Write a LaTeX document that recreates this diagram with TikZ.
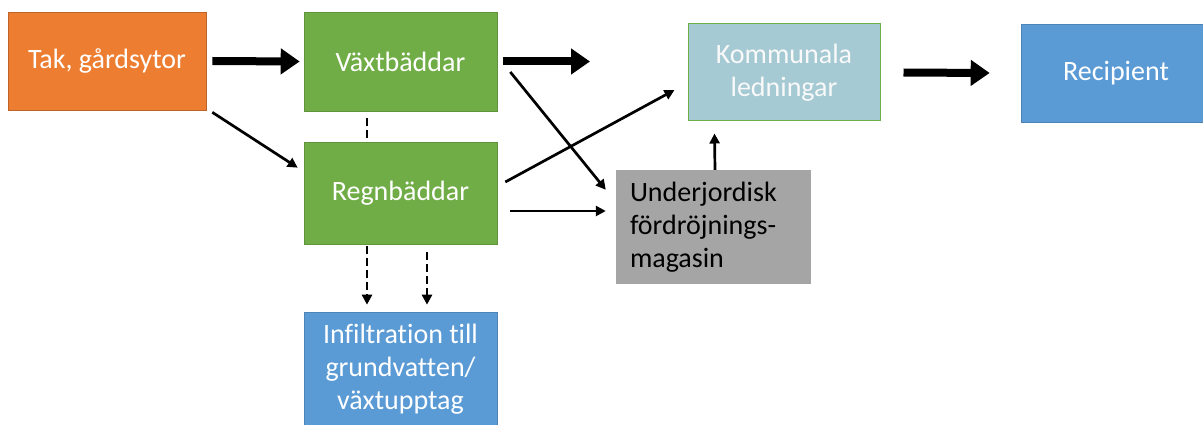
\documentclass[tikz,border=0pt]{standalone}
\usepackage{fontspec}
\setmainfont[Ligatures=NoCommon]{Carlito}
\usetikzlibrary{arrows.meta,calc}
\definecolor{corange}{HTML}{ED7D31}
\definecolor{cgreen}{HTML}{70AD47}
\definecolor{cblue}{HTML}{5B9BD5}
\definecolor{cgray}{HTML}{A5A5A5}
\definecolor{clight}{HTML}{A6CAD4}
\begin{document}
\begin{tikzpicture}[x=1pt,y=-1pt,
  box/.style={rectangle, inner sep=0pt, text=white, align=center,
    font=\fontsize{28}{33}\selectfont},
  thickarrow/.style={line width=8pt, -{Triangle[length=19pt,width=25pt]}},
  thinarrow/.style={line width=2.7pt, -{Triangle[length=10pt,width=10pt]}},
  dasharrow/.style={line width=2.7pt, dash pattern=on 8pt off 4pt, -{Triangle[length=10pt,width=10pt]}},
  dashline/.style={line width=2.7pt, dash pattern=on 8pt off 4pt}]
\useasboundingbox (0,0) rectangle (1203,425);
\node[box, fill=corange, draw=corange!80!black, line width=0.6pt, minimum width=198, minimum height=98] (tak) at (107,61) {Tak, gårdsytor};
\node[box, fill=cgreen, draw=cgreen!85!black, line width=0.6pt, minimum width=193, minimum height=99] (vaxt) at (400.5,61.5) {Växtbäddar};
\node[box, fill=cgreen, draw=cgreen!85!black, line width=0.6pt, minimum width=193, minimum height=102] (regn) at (400.5,193) {Regnbäddar};
\node[box, fill=cblue, draw=cblue!85!black, line width=0.6pt, minimum width=193, minimum height=114] (infil) at (400.5,369) {Infiltration till\\grundvatten/\\växtupptag};
\node[box, fill=clight, draw=cgreen, line width=1pt, minimum width=192, minimum height=97, text=white!95!gray] (komm) at (784,72.5) {Kommunala\\ledningar};
\node[box, fill=cblue, draw=cblue!85!black, line width=0.6pt, minimum width=190, minimum height=98] (recip) at (1116,73) {Recipient};
\node[box, fill=cgray, minimum width=195, minimum height=114, text=black, align=left, text width=167, inner xsep=14pt] (under) at (713.5,227) {Underjordisk\\fördröjnings-\\magasin};
\coordinate (free) at (590,61.5);
% thick arrows
\draw[thickarrow] ([shift={(6,0)}]tak.east) -- ([shift={(-4,0)}]vaxt.west);
\draw[thickarrow] ([shift={(6,0)}]vaxt.east) -- (free);
\draw[thickarrow] ([shift={(23,0)}]komm.east) -- ([shift={(-31,0)}]recip.west);
% thin arrows
\draw[thinarrow] ([shift={(6,2)}]tak.south east) -- ([shift={(-6,26)}]regn.north west);
\draw[thinarrow] ([shift={(13,10.5)}]vaxt.east) -- ([shift={(-10,20)}]under.north west);
\draw[thinarrow] ([shift={(8,-11)}]regn.east) -- ([shift={(-13,17.5)}]komm.west);
\draw[thinarrow] ([shift={(13,18)}]regn.east) -- ([shift={(-10,-16)}]under.west);
\draw[thinarrow] ([shift={(1.5,0)}]under.north) -- ([shift={(27,12)}]komm.south west);
% dashed
\draw[dashline] ([shift={(-33.5,7)}]vaxt.south) -- ([shift={(-33.5,-1)}]regn.north);
\draw[dasharrow] ([shift={(-33.5,2)}]regn.south) -- ([shift={(-33.5,-7)}]infil.north);
\draw[dasharrow] ([shift={(26.5,8)}]regn.south) -- ([shift={(26.5,-7)}]infil.north);
\end{tikzpicture}
\end{document}
